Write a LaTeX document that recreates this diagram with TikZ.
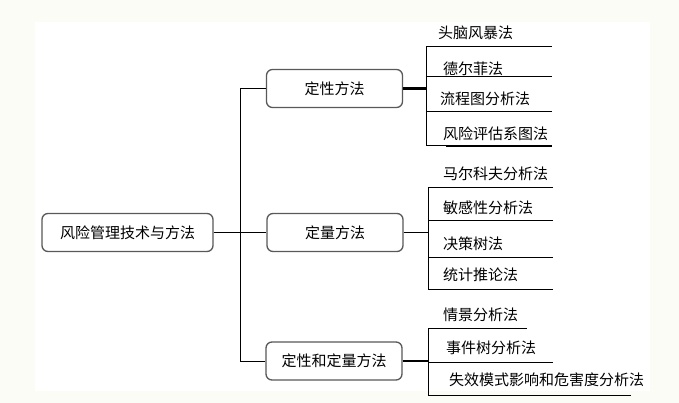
\documentclass[tikz,border=0pt]{standalone}
\usepackage{fontspec}
\setmainfont{Noto Sans CJK SC}
\usetikzlibrary{calc}
\usetikzlibrary{positioning}
\definecolor{paper}{HTML}{FCFCF6}

\begin{document}
\begin{tikzpicture}[x=1pt,y=-1pt,
 box/.style={draw=black!65, line width=1.3pt, rounded corners=6pt, fill=white, minimum width=136pt, minimum height=38pt, inner sep=0pt, font=\fontsize{15}{18}\selectfont},
 leaf/.style={anchor=west, inner sep=0pt, font=\fontsize{15}{18}\selectfont},
 link/.style={black, line width=1pt}]
\fill[paper] (0,0) rectangle (679,403);
\fill[white] (35,22) rectangle (650,391);
\useasboundingbox (0,0) rectangle (679,403);

\node[box, minimum width=171pt] (root) at (127.5,232.5) {风险管理技术与方法};
\node[box] (qual) at (334.5,88.5) {定性方法};
\node[box] (quan) at (335,232.5) {定量方法};
\node[box] (both) at (334,361) {定性和定量方法};

\coordinate (fork) at (240,0);
\draw[link, line width=1.8pt] (root) -- (quan);
\draw[link] (fork |- qual.west) -- (fork |- both.west);
\draw[link] (fork |- qual.west) -- (qual.west);
\draw[link] (fork |- both.west) -- (both.west);

\coordinate (b1) at (426,0);
\draw[link, line width=2.5pt] (qual.east) -- (b1 |- qual.east);
\draw[link] (426,47) -- (426,146);
\foreach \ty/\uy/\tx/\t [count=\i] in {33/47/438/头脑风暴法, 68.5/77/443/德尔菲法, 99/112/440/流程图分析法, 134/146/443/风险评估系图法}{
 \node[leaf] (qual\i) at (\tx,\ty) {\t};
 \draw[link] (426,\uy) -- (552,\uy);
}
\draw[link, line width=2pt] (446,146) -- (552,146);

\coordinate (b2) at (428,0);
\draw[link, line width=1.3pt] (quan.east) -- (b2 |- quan.east);
\draw[link] (428,188) -- (428,289);
\foreach \ty/\uy/\tx/\t [count=\i] in {173.5/188/443/马尔科夫分析法, 208/221/443/敏感性分析法, 244/257/443/决策树法, 275/289/443/统计推论法}{
 \node[leaf] (quan\i) at (\tx,\ty) {\t};
 \draw[link] (428,\uy) -- (553,\uy);
}

\coordinate (b3) at (428,0);
\draw[link, line width=1.3pt] (both.east) -- (b3 |- both.east);
\draw[link] (428,328) -- (428,395);
\foreach \ty/\uy/\tx/\ux/\t [count=\i] in {315/328/443/527/情景分析法, 347.5/362/446/553/事件树分析法, 379.5/395/449/631/失效模式影响和危害度分析法}{
 \node[leaf] (both\i) at (\tx,\ty) {\t};
 \draw[link] (428,\uy) -- (\ux,\uy);
}
\end{tikzpicture}
\end{document}
